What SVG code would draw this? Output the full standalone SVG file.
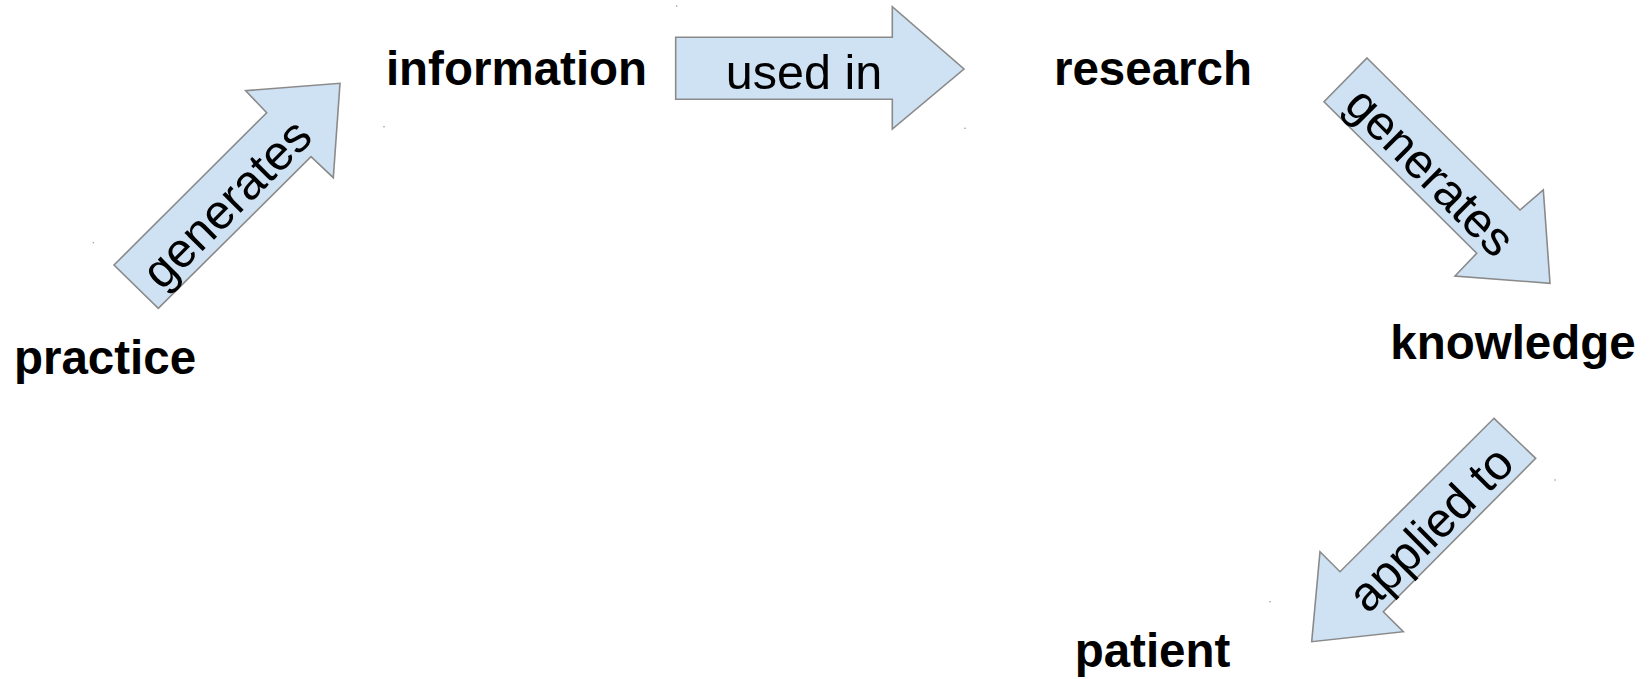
<svg xmlns="http://www.w3.org/2000/svg" width="1652" height="679" viewBox="0 0 1652 679">
  <style>
    .node { font-family: "Liberation Sans", Arial, sans-serif; font-weight: bold; font-size: 47.5px; fill: #000; text-anchor: middle; }
    .arrow { fill: #cfe2f3; stroke: #8a8a8a; stroke-width: 1.6; stroke-linejoin: miter; }
    .lbl { font-family: "Liberation Sans", Arial, sans-serif; font-size: 48.5px; fill: #000; text-anchor: middle; }
    .dot { fill: #9a9a9a; }
  </style>

  <rect width="1652" height="679" fill="#fff"/>

  <!-- block arrows with their labels -->
  <g id="connectors">
    <g id="arrow-used-in">
      <polygon class="arrow" points="675.7,37.3 892.3,37.3 892.3,6.7 964,69 892.3,129 892.3,99.3 675.7,99.3"/>
      <text class="lbl" x="804" y="88.5">used in</text>
    </g>
    <g id="arrow-generates-1">
      <polygon class="arrow" points="114,265 266.7,112.7 245.7,90.7 340,83.3 333.3,177.7 311,156.7 158.3,308.3"/>
      <text class="lbl" transform="translate(227,204) rotate(-45)" y="16">generates</text>
    </g>
    <g id="arrow-generates-2">
      <polygon class="arrow" points="1367,58 1520,210 1543.3,190 1550,283.3 1455,276 1476.7,253.3 1324,101.7"/>
      <text class="lbl" transform="translate(1430,172) rotate(45)" y="16">generates</text>
    </g>
    <g id="arrow-applied-to">
      <polygon class="arrow" points="1494,418.3 1535.7,458.3 1383.3,611.7 1403.3,631.7 1311.7,641.7 1320,551.7 1340,571.7"/>
      <text class="lbl" transform="translate(1431,529) rotate(-45)" y="16">applied to</text>
    </g>
  </g>

  <!-- stage labels -->
  <g id="information"><text class="node" x="516.5" y="85">information</text></g>
  <g id="research"><text class="node" x="1153" y="84.5">research</text></g>
  <g id="knowledge"><text class="node" x="1513" y="359">knowledge</text></g>
  <g id="practice"><text class="node" x="105" y="374">practice</text></g>
  <g id="patient"><text class="node" x="1152.5" y="667">patient</text></g>

  <!-- small corner marks -->
  <g id="marks">
    <circle class="dot" cx="384" cy="126.7" r="0.8"/>
    <circle class="dot" cx="93.3" cy="242.7" r="0.8"/>
    <circle class="dot" cx="676.7" cy="6" r="0.8"/>
    <circle class="dot" cx="965" cy="128.3" r="0.8"/>
    <circle class="dot" cx="1555" cy="480" r="0.8"/>
    <circle class="dot" cx="1270" cy="601.7" r="0.8"/>
  </g>
</svg>
